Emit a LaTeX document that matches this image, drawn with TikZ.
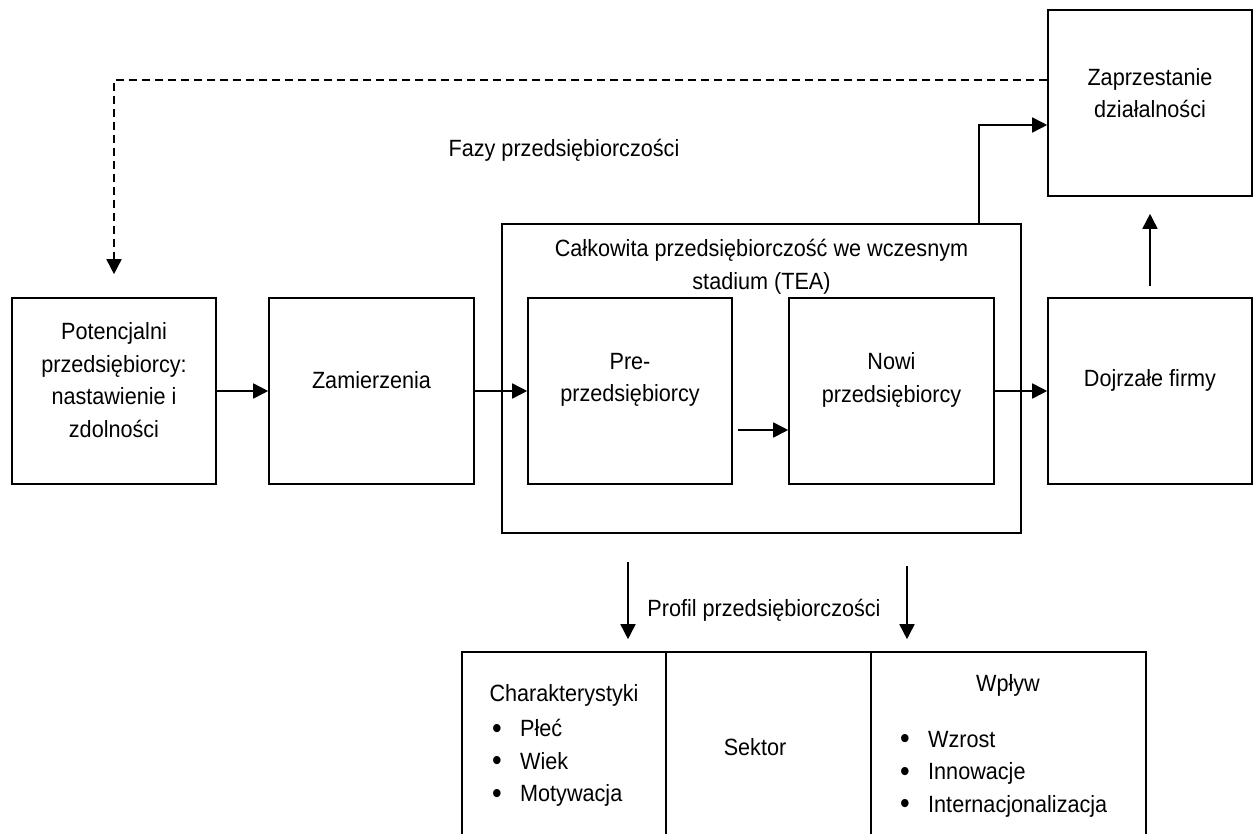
\documentclass[tikz,border=0pt]{standalone}
\usepackage{fontspec}
\setmainfont{Liberation Sans}[FakeStretch=0.92]
\usetikzlibrary{arrows.meta}
\newcommand{\bul}{\makebox[28pt][l]{\raisebox{-1.5pt}{\fontsize{30pt}{30pt}\selectfont\textbullet}}}

\begin{document}
\begin{tikzpicture}[x=1pt,y=-1pt,
  box/.style={draw,line width=1.6pt,minimum width=#1,minimum height=186pt,inner sep=0pt},
  box/.default=204pt,
  txt/.style={align=center,inner sep=0pt,font=\fontsize{23.5pt}{32.5pt}\selectfont},
  arr/.style={line width=1.6pt,-{Triangle[length=15pt,width=15pt]}}]
\clip (0,0) rectangle (1255,834);
\node[box] (pot) at (114,391) {};
\node[box=205pt] (zam) at (371.5,391) {};
\node[box=519pt,minimum height=309pt] (tea) at (761.5,378.5) {};
\node[box] (pre) at (630,391) {};
\node[box=205pt] (nowi) at (891.5,391) {};
\node[box] (doj) at (1150,391) {};
\node[box] (zap) at (1150,103) {};
\node[box,minimum height=208pt] (char) at (564,756) {};
\node[box=205pt,minimum height=208pt] (sek) at (768.5,756) {};
\node[box=275pt,minimum height=208pt] (wpl) at (1008.5,756) {};

\node[txt] (potT) at ([yshift=11pt]pot.center) {Potencjalni\\przedsiębiorcy:\\nastawienie i\\zdolności};
\node[txt] (zamT) at ([yshift=11pt]zam.center) {Zamierzenia};
\node[txt] (teaT) at (761.5,267) {Całkowita przedsiębiorczość we wczesnym\\stadium (TEA)};
\node[txt] (preT) at ([yshift=11pt]pre.center) {Pre-\\przedsiębiorcy};
\node[txt] (nowiT) at ([yshift=11pt]nowi.center) {Nowi\\przedsiębiorcy};
\node[txt] (dojT) at ([yshift=11pt]doj.center) {Dojrzałe firmy};
\node[txt] (zapT) at ([yshift=10pt]zap.center) {Zaprzestanie\\działalności};
\node[txt] (fazy) at (564,150) {Fazy przedsiębiorczości};
\node[txt] (prof) at (764,610) {Profil przedsiębiorczości};
\node[txt] (charT) at (564,695) {Charakterystyki};
\node[txt,align=left,anchor=west] (charL) at (492,763) {\bul Płeć\\\bul Wiek\\\bul Motywacja};
\node[txt] (sekT) at (755,747) {Sektor};
\node[txt] (wplT) at (1008,685) {Wpływ};
\node[txt,align=left,anchor=west] (wplL) at (900,774) {\bul Wzrost\\\bul Innowacje\\\bul Internacjonalizacja};

\coordinate (d1) at (628,562);
\coordinate (d2) at (907,566);

\draw[arr] (pot) -- (zam);
\draw[arr] (zam) -- (pre);
\draw[arr,shorten <=5pt] ([yshift=-39pt]pre.east) -- ([yshift=-39pt]nowi.west);
\draw[arr] (nowi) -- (doj);
\draw[arr,shorten <=11pt,shorten >=17pt] (doj) -- (zap);
\draw[arr] ([xshift=217.5pt]tea.north) |- ([yshift=-22pt]zap.west);
\draw[arr,dash pattern=on 8pt off 5pt] ([yshift=23pt]zap.west) -| ([yshift=23pt]pot.north);
\draw[arr,shorten >=12pt] (d1) -- (d1 |- char.north);
\draw[arr,shorten >=12pt] (d2) -- (d2 |- wpl.north);
\end{tikzpicture}
\end{document}
